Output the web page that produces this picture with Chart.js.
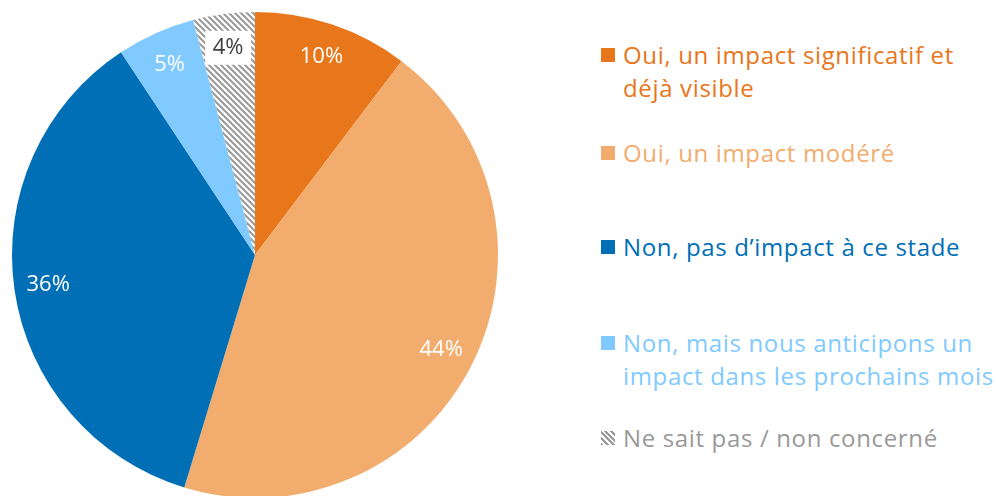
<!DOCTYPE html>
<html>
<head>
<meta charset="utf-8">
<script src="https://cdn.jsdelivr.net/npm/chart.js@4.4.1/dist/chart.umd.min.js"></script>
<style>
    html, body { margin: 0; padding: 0; background: #fff; overflow: hidden; }
    body { width: 996px; height: 496px; position: relative; font-family: 'Open Sans', sans-serif; }
    #chart-box { position: absolute; left: 0; top: 0; width: 510px; height: 510px; }
    #legend { position: absolute; left: 601px; top: 0; width: 395px; }
    .item { position: absolute; left: 0; display: flex; align-items: flex-start; font-size: 24px; letter-spacing: 0.65px; line-height: 33px; white-space: nowrap; }
    .swatch { width: 14px; height: 14px; margin-top: 10px; margin-right: 8px; flex: none; }
</style>
</head>
<body>
<div id="chart-box"><canvas id="pie"></canvas></div>
<div id="legend"></div>
<script>
// Data
const labels = [
    'Oui, un impact significatif et<br>déjà visible',
    'Oui, un impact modéré',
    'Non, pas d’impact à ce stade',
    'Non, mais nous anticipons un<br>impact dans les prochains mois',
    'Ne sait pas / non concerné'
];
const values = [10.3, 44.4, 36.0, 5.2, 4.1];
const shown = ['10%', '44%', '36%', '5%', '4%'];
const colors = ['#E8761A', '#F2AC6D', '#006FB6', '#80CAFF', null];
const textColors = ['#E8761A', '#F2AC6D', '#006FB6', '#80CAFF', '#999999'];
const legendTops = [38, 136, 230, 326, 421];

// Hatch pattern for the last slice
function makeHatch() {
    const c = document.createElement('canvas');
    c.width = 6; c.height = 6;
    const g = c.getContext('2d');
    g.fillStyle = '#fff';
    g.fillRect(0, 0, 6, 6);
    g.strokeStyle = '#999';
    g.lineWidth = 2;
    g.beginPath();
    g.moveTo(-1, -1); g.lineTo(7, 7);
    g.moveTo(-4, 2); g.lineTo(4, 10);
    g.moveTo(2, -4); g.lineTo(10, 4);
    g.stroke();
    return c;
}
const hatchCanvas = makeHatch();
const ctx = document.getElementById('pie').getContext('2d');
colors[4] = ctx.createPattern(hatchCanvas, 'repeat');

// Value labels drawn inside the slices
const sliceLabels = {
    id: 'sliceLabels',
    afterDatasetsDraw(chart) {
        const c = chart.ctx;
        const meta = chart.getDatasetMeta(0);
        c.save();
        c.font = '22px "Open Sans", sans-serif';
        c.textAlign = 'center';
        c.textBaseline = 'middle';
        meta.data.forEach((arc, i) => {
            const mid = (arc.startAngle + arc.endAngle) / 2;
            const r = arc.outerRadius * 0.86;
            const x = arc.x + Math.cos(mid) * r;
            const y = arc.y + Math.sin(mid) * r;
            if (i === 4) {
                c.fillStyle = '#fff';
                c.fillRect(x - 23, y - 17, 46, 34);
                c.fillStyle = '#404040';
            } else {
                c.fillStyle = '#fff';
            }
            c.fillText(shown[i], x, y);
        });
        c.restore();
    }
};

new Chart(ctx, {
    type: 'pie',
    data: {
        labels: labels.map(l => l.replace('<br>', ' ')),
        datasets: [{
            data: values,
            backgroundColor: colors,
            borderWidth: 0
        }]
    },
    options: {
        responsive: true,
        maintainAspectRatio: false,
        animation: false,
        layout: { padding: 12 },
        plugins: {
            legend: { display: false },
            tooltip: { enabled: false }
        }
    },
    plugins: [sliceLabels]
});

// HTML legend
const legend = document.getElementById('legend');
labels.forEach((label, i) => {
    const item = document.createElement('div');
    item.className = 'item';
    item.style.top = legendTops[i] + 'px';
    item.style.color = textColors[i];
    const sw = document.createElement('span');
    sw.className = 'swatch';
    if (i === 4) {
        sw.style.background = 'repeating-linear-gradient(45deg, #999 0 2px, #fff 2px 4px)';
    } else {
        sw.style.background = colors[i];
    }
    const txt = document.createElement('span');
    txt.innerHTML = label;
    item.appendChild(sw);
    item.appendChild(txt);
    legend.appendChild(item);
});
</script>
</body>
</html>
